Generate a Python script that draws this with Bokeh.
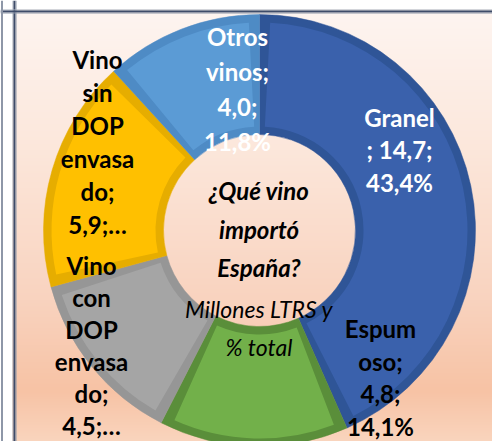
import numpy as np
from bokeh.plotting import figure
from bokeh.models import Range1d, ColumnDataSource, Span
from bokeh.core.properties import value
from bokeh.embed import file_html
from bokeh.resources import INLINE

# ---------------- data ----------------
categories = ["Granel", "Espumoso", "Vino con DOP envasado",
              "Vino sin DOP envasado", "Otros vinos"]
volumes = [14.7, 4.8, 4.5, 5.9, 4.0]            # millones de litros
value_texts = ["14,7", "4,8", "4,5", "5,9", "4,0"]
percent_texts = ["43,4%", "14,1%", "13,3%", "17,4%", "11,8%"]
# data labels as wrapped/truncated in the reference
label_lines = [
    ["Granel", "; 14,7;", "43,4%"],
    ["Espum", "oso;", "4,8;", "14,1%"],
    ["Vino", "con", "DOP", "envasa", "do;", "4,5;…"],
    ["Vino", "sin", "DOP", "envasa", "do;", "5,9;…"],
    ["Otros", "vinos;", "4,0;", "11,8%"],
]
title_lines = ["¿Qué vino", "importó", "España?"]
subtitle_lines = ["Millones LTRS y", "% total"]

# ---------------- styles ----------------
fill_colors = ["#3A61AC", "#72B04A", "#A5A5A5", "#FFC000", "#5B9BD5"]
edge_colors = ["#2F5597", "#5A8E3A", "#969696", "#E6AD00", "#4E8BC5"]
label_colors = ["white", "black", "black", "black", "white"]
# label anchor (screen px: x centre, y of first line, line spacing)
label_layout = [(399, 116.5, 32.5), (380, 328.0, 32.5), (91, 264.5, 32.0),
                (97, 58.5, 33.0), (237, 35.5, 35.0)]
title_layout = [(258.5, 190.0), (258.5, 228.5), (258.5, 267.0)]
subtitle_layout = [(258.5, 308.5), (258.5, 346.0)]

W, H = 492, 441
BOTTOM = H


def ys(sy):
    return BOTTOM - sy


CX, CY = 259.0, ys(230.0)
R_OUT, R_IN = 216.0, 96.0
BAND = 8.0
BG_X0, BG_Y0 = 12, 9   # chart-area top-left (screen px)

p = figure(width=W, height=H, x_range=Range1d(0, W), y_range=Range1d(0, H),
           x_axis_type=None, y_axis_type=None, output_backend="svg",
           toolbar_location=None, min_border_left=0, min_border_top=0,
           min_border_right=0, min_border_bottom=0)
p.grid.visible = False
p.outline_line_color = None
p.border_fill_color = "white"
p.background_fill_color = "white"

# background gradient of the chart area
stops_y = [BG_Y0, 150, 300, 390, BOTTOM]
stops_c = np.array([(254, 245, 241), (252, 231, 219), (249, 211, 191),
                    (247, 195, 165), (250, 213, 190)], dtype=float)
nrows = H - BG_Y0
rows = np.arange(nrows) + 0.5
screen_rows = BOTTOM - rows
img = np.empty((nrows, 2, 4), dtype=np.uint8)
for ch in range(3):
    col = np.interp(screen_rows, stops_y, stops_c[:, ch])
    img[:, :, ch] = col[:, None].astype(np.uint8)
img[:, :, 3] = 255
p.image_rgba(image=[img.view(np.uint32).reshape(nrows, 2)], x=BG_X0, y=0,
             dw=W - BG_X0, dh=nrows)

# doughnut
vals = np.array(volumes, dtype=float)
frac = vals / vals.sum()
theta_end = np.cumsum(frac) * 2 * np.pi
theta_start = theta_end - frac * 2 * np.pi
start = np.pi / 2 - theta_start
end = np.pi / 2 - theta_end
delta = BAND / ((R_OUT + R_IN) / 2)

src = ColumnDataSource(dict(cat=categories, start=start, end=end,
                            istart=start - delta, iend=end + delta,
                            fill=fill_colors, edge=edge_colors))
p.annular_wedge(x=CX, y=CY, inner_radius=R_IN, outer_radius=R_OUT,
                start_angle="start", end_angle="end", direction="clock",
                fill_color="edge", line_color="edge", line_width=0.5, source=src)
p.annular_wedge(x=CX, y=CY, inner_radius=R_IN + BAND, outer_radius=R_OUT - BAND,
                start_angle="istart", end_angle="iend", direction="clock",
                fill_color="fill", line_color=None, source=src)

# data labels
lx, ly, lt, lc = [], [], [], []
for lines, (ax, ay, sp), c in zip(label_lines, label_layout, label_colors):
    for i, t in enumerate(lines):
        lx.append(ax)
        ly.append(ys(ay + i * sp))
        lt.append(t)
        lc.append(c)
p.text(x=lx, y=ly, text=lt, text_color=lc, text_font=value("Lato"),
       text_font_style="bold", text_font_size="24px", text_align="center",
       text_baseline="middle")

# centre title
p.text(x=[a for a, _ in title_layout], y=[ys(b) for _, b in title_layout],
       text=title_lines, text_color="black", text_font=value("Lato"),
       text_font_style="bold italic", text_font_size="24px",
       text_align="center", text_baseline="middle")
p.text(x=[a for a, _ in subtitle_layout], y=[ys(b) for _, b in subtitle_layout],
       text=subtitle_lines, text_color="black", text_font=value("Lato"),
       text_font_style="italic", text_font_size="23px",
       text_align="center", text_baseline="middle")

# chart frame (left and top) and neighbouring frame edge at far left
for loc, col, w in [(12.5, "#A9B0BD", 1), (14.0, "#3E4C69", 2), (15.5, "#8E97A8", 1)]:
    p.add_layout(Span(location=loc, dimension="height", line_color=col, line_width=w))
for loc, col, w in [(9.5, "#A9B0BD", 1), (11.0, "#3E4C69", 2), (12.5, "#8E97A8", 1)]:
    p.add_layout(Span(location=ys(loc), dimension="width", line_color=col, line_width=w))
p.add_layout(Span(location=1.5, dimension="height", line_color="#8E97A8", line_width=2))

open("out.html", "w").write(file_html(p, INLINE))
